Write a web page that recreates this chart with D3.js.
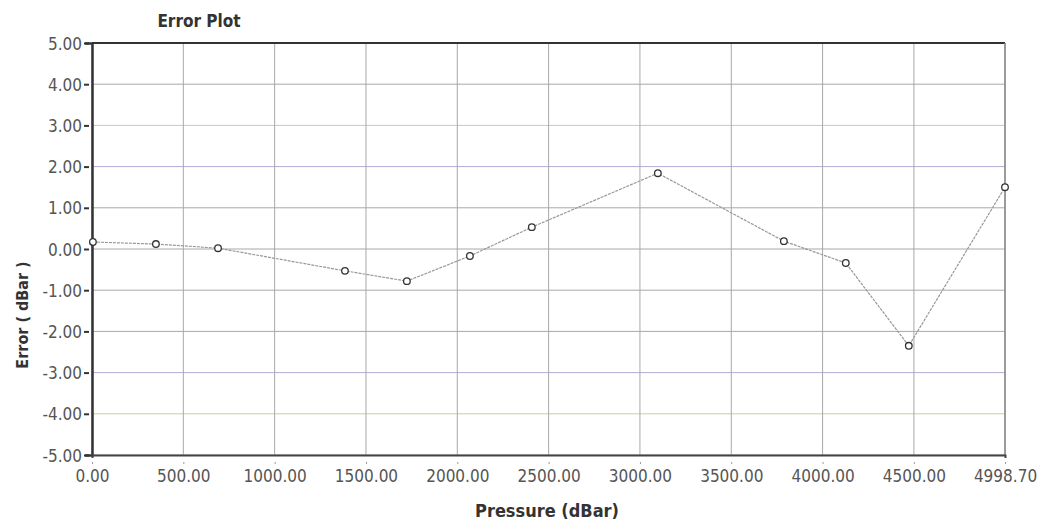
<!DOCTYPE html>
<html>
<head>
<meta charset="utf-8">
<script src="https://cdn.jsdelivr.net/npm/d3@7"></script>
<style>
  body { margin: 0; background: #fff; }
  text { font-family: "DejaVu Sans Condensed", "DejaVu Sans", sans-serif; }
</style>
</head>
<body>
<script>
const width = 1044;
const height = 523;

const margin = {
  top: 43,
  left: 92,
  bottom: 68,
  right: 39
};

// data
const pressure = [5, 350, 690, 1385, 1724, 2069, 2408, 3098, 3788, 4127, 4472, 4998.7];
const error = [0.17, 0.12, 0.02, -0.53, -0.78, -0.17, 0.53, 1.84, 0.19, -0.34, -2.35, 1.50];
const xTicks = [0, 500, 1000, 1500, 2000, 2500, 3000, 3500, 4000, 4500, 4998.7];
const yTicks = [-5, -4, -3, -2, -1, 0, 1, 2, 3, 4, 5];

const mWidth = width - margin.left - margin.right;
const mHeight = height - margin.top - margin.bottom;

// plain hyphen for negatives, like the original
const fmt = d3.formatLocale({decimal: ".", thousands: "", grouping: [3], currency: ["", ""], minus: "-"}).format(".2f");

const root = d3.select("body").append("svg")
  .attr("width", width)
  .attr("height", height);

const svg = root.append("g")
  .attr("transform", `translate(${margin.left}, ${margin.top})`);

const x = d3.scaleLinear().domain([0, 4998.7]).range([0, mWidth]);
const y = d3.scaleLinear().domain([-5, 5]).range([mHeight, 0]);

// grid
svg.append("g")
  .selectAll("line")
  .data(yTicks)
  .enter()
  .append("line")
  .attr("x1", 0)
  .attr("x2", mWidth)
  .attr("y1", (d) => y(d))
  .attr("y2", (d) => y(d))
  .style("stroke", (d) => d === 2 || d === -3 ? "#b7a9d6" : (d === 3 || d === -4 ? "#c9cfa0" : "#a8a8a8"))
  .style("stroke-width", 1);

svg.append("g")
  .selectAll("line")
  .data(xTicks)
  .enter()
  .append("line")
  .attr("x1", (d) => x(d))
  .attr("x2", (d) => x(d))
  .attr("y1", 0)
  .attr("y2", mHeight)
  .style("stroke", "#a8a8a8")
  .style("stroke-width", 1);

// frame
svg.append("line").attr("x1", 0).attr("x2", mWidth).attr("y1", 0).attr("y2", 0)
  .style("stroke", "#333").style("stroke-width", 2);
svg.append("line").attr("x1", mWidth).attr("x2", mWidth).attr("y1", 0).attr("y2", mHeight)
  .style("stroke", "#888").style("stroke-width", 1.5);

// axes
const yAxis = svg.append("g")
  .call(d3.axisLeft(y).tickValues(yTicks).tickFormat(fmt).tickSize(7).tickPadding(3));
yAxis.select(".domain").style("stroke", "#333").style("stroke-width", 2.5);
yAxis.selectAll(".tick line").style("stroke", "#333").style("stroke-width", 2).attr("x2", -8).attr("x1", -3);
yAxis.selectAll(".tick text")
  .style("font-size", "17px")
  .style("fill", "#555")
  .attr("x", -10)
  .attr("dy", "0.36em");

const xAxis = svg.append("g")
  .attr("transform", `translate(0, ${mHeight})`)
  .call(d3.axisBottom(x).tickValues(xTicks).tickFormat(fmt).tickSize(3).tickPadding(12));
xAxis.select(".domain").style("stroke", "#444").style("stroke-width", 2);
xAxis.selectAll(".tick line").style("stroke", "#999").attr("y1", 7).attr("y2", 9);
xAxis.selectAll(".tick text")
  .style("font-size", "17px")
  .style("fill", "#555");

// series
const line = d3.line()
  .x((d) => x(d[0]))
  .y((d) => y(d[1]));

const points = pressure.map((p, i) => [p, error[i]]);

svg.append("path")
  .datum(points)
  .attr("d", line)
  .style("fill", "none")
  .style("stroke", "#999")
  .style("stroke-width", 1.2)
  .style("stroke-dasharray", "3,1");

svg.selectAll("circle")
  .data(points)
  .enter()
  .append("circle")
  .attr("cx", (d) => x(d[0]))
  .attr("cy", (d) => y(d[1]))
  .attr("r", 3.3)
  .style("fill", "#fff")
  .style("stroke", "#333")
  .style("stroke-width", 1.3);

// titles
root.append("text")
  .attr("x", 199)
  .attr("y", 27)
  .attr("text-anchor", "middle")
  .style("font-size", "17px")
  .style("font-weight", "bold")
  .style("fill", "#333")
  .text("Error Plot");

root.append("text")
  .attr("x", 547)
  .attr("y", 517)
  .attr("text-anchor", "middle")
  .style("font-size", "18px")
  .style("font-weight", "bold")
  .style("fill", "#333")
  .text("Pressure (dBar)");

root.append("text")
  .attr("transform", "translate(28, 315) rotate(-90)")
  .attr("text-anchor", "middle")
  .style("font-size", "16px")
  .style("font-weight", "bold")
  .style("fill", "#333")
  .text("Error ( dBar )");
</script>
</body>
</html>
